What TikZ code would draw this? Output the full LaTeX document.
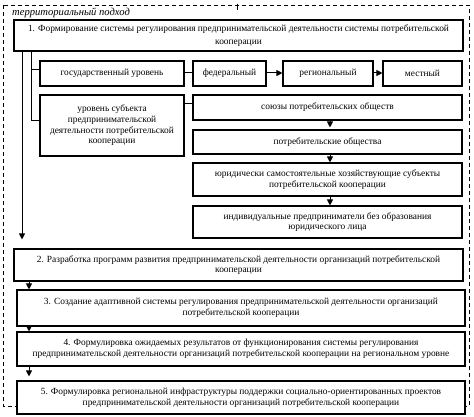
\documentclass[tikz,border=0pt]{standalone}
\usepackage{fontspec}
\setmainfont{Liberation Serif}
\usetikzlibrary{arrows.meta}
\begin{document}
\begin{tikzpicture}[x=1pt,y=-1pt,
  txt/.style={font=\fontsize{9.4}{10.7}\selectfont},
  box/.style={draw,line width=1.1pt,fill=white,align=center,inner sep=0pt,txt},
  link/.style={line width=1pt},
  arr/.style={line width=1pt,-{Triangle[width=6pt,length=6pt]}},
  frame/.style={line width=0.9pt,dash pattern=on 4pt off 3pt}]
\useasboundingbox (0,0) rectangle (474,417);
\draw[frame] (3,5) rectangle (469,406);
\coordinate (tt) at (237,4);
\coordinate (tb) at (237,10);
\draw[link] (tt) -- (tb);
\node[anchor=base west,inner sep=0pt,font=\fontsize{10.6}{12}\selectfont\itshape] (lbl) at (12,16) {территориальный подход};

\node[box,minimum width=449,minimum height=31] (b1) at (238.5,35.5) {1. Формирование системы регулирования предпринимательской деятельности системы потребительской\\[3pt]кооперации};

\node[box,minimum width=144,minimum height=25] (gos) at (112,73.5) {государственный уровень};
\node[box,minimum width=73,minimum height=25] (fed) at (229.5,73.5) {федеральный};
\node[box,minimum width=90,minimum height=25] (reg) at (328,73.5) {региональный};
\node[box,minimum width=79,minimum height=25] (mest) at (422.5,73.5) {местный};

\node[box,minimum width=144,minimum height=61] (subj) at (112,125.5) {уровень субъекта\\предпринимательской\\деятельности потребительской\\кооперации};

\node[box,minimum width=269,minimum height=25] (soyuz) at (327.5,107.5) {союзы потребительских обществ};
\node[box,minimum width=269,minimum height=24] (potreb) at (327.5,142) {потребительские общества};
\node[box,minimum width=269,minimum height=33] (yur) at (327.5,179.5) {юридически самостоятельные хозяйствующие субъекты\\потребительской кооперации};
\node[box,minimum width=269,minimum height=32] (ind) at (327.5,222) {индивидуальные предприниматели без образования\\юридического лица};

\node[box,minimum width=449,minimum height=32] (b2) at (238.5,265) {2. Разработка программ развития предпринимательской деятельности организаций потребительской\\кооперации};
\node[box,minimum width=448,minimum height=36] (b3) at (241,308) {3. Создание адаптивной системы регулирования предпринимательской деятельности организаций\\потребительской кооперации};
\node[box,minimum width=448,minimum height=34] (b4) at (241,349) {4. Формулировка ожидаемых результатов от функционирования системы регулирования\\предпринимательской деятельности организаций потребительской кооперации на региональном уровне};
\node[box,minimum width=448,minimum height=33] (b5) at (241,397.5) {5. Формулировка региональной инфраструктуры поддержки социально-ориентированных проектов\\предпринимательской деятельности организаций потребительской кооперации};

% left spines
\draw[link] (b1.south -| 31,0) -- (31,121) -- (subj.west |- 31,121);
\draw[link] (31,70) -- (gos.west |- 31,70);
\draw[arr,shorten >=9pt] (b1.south -| 22,0) -- (b2.north -| 22,0);

% horizontal chain
\draw[link] (gos.east |- 0,73) -- (fed.west |- 0,73);
\draw[arr] (fed.east |- 0,73) -- (reg.west |- 0,73);
\draw[arr] (reg.east |- 0,73) -- (mest.west |- 0,73);

% subject to right column
\draw[link] (subj.east |- 0,104) -- (soyuz.west |- 0,104);
\draw[arr,shorten >=2pt] (soyuz.south -| 330,0) -- (potreb.north -| 330,0);
\draw[arr] (potreb.south -| 330,0) -- (yur.north -| 330,0);
\draw[arr] (yur.south -| 330,0) -- (ind.north -| 330,0);

% main chain
\draw[arr] (b2.south -| 29,0) -- (b3.north -| 29,0);
\draw[arr] (b3.south -| 29,0) -- (b4.north -| 29,0);
\draw[arr,shorten >=4pt] (b4.south -| 29,0) -- (b5.north -| 29,0);
\end{tikzpicture}
\end{document}
